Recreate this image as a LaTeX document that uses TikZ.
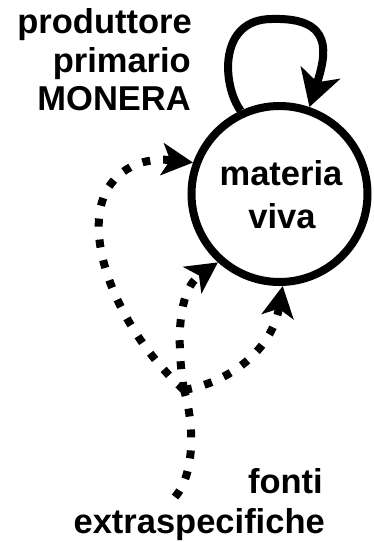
\documentclass[tikz,border=0pt]{standalone}
\usepackage{fontspec}
\setmainfont{Liberation Sans}
\usetikzlibrary{arrows.meta}
\begin{document}
\begin{tikzpicture}[x=1pt,y=-1pt,
  lbl/.style={font=\fontsize{34.5}{40}\selectfont\bfseries, inner sep=0pt},
  ring/.style={circle, draw, line width=8pt, minimum size=176pt, inner sep=0pt},
  feed/.style={line width=8pt, -{Stealth[length=36pt,width=41pt,inset=10pt]}},
  supply/.style={line width=8pt, dash pattern=on 8pt off 13pt},
  supplyarrow/.style={supply, -{Stealth[length=31pt,width=32pt,inset=8pt]}}]
\useasboundingbox (0,0) rectangle (373,542);

% living matter
\node[ring] (mv) at (279.5,194) {};
\node[lbl, anchor=base] (mv1) at (281,185) {materia};
\node[lbl, anchor=base] (mv2) at (282,228) {viva};

% primary producer label
\node[lbl, anchor=base east] (p1) at (192,33) {produttore};
\node[lbl, anchor=base east] (p2) at (191,72) {primario};
\node[lbl, anchor=base east] (p3) at (191,110) {MONERA};

% external sources label
\node[lbl, anchor=base east] (f1) at (323,493) {fonti};
\node[lbl, anchor=base east] (f2) at (325,533) {extraspecifiche};

% self-feeding loop
\draw[feed] (mv.115) .. controls (222,85) and (218,19) .. (272,19)
            .. controls (335,17) and (326,55) .. (mv.71);

% supply lines from the external sources
\coordinate (src) at (175,497);
\coordinate (fork) at (184,390);
\draw[supply] (src) .. controls (193,477) and (196,430) .. (fork);
\draw[supplyarrow] (fork) .. controls (176,340) and (178,290) .. (mv.228);
\draw[supplyarrow] (fork) .. controls (230,382) and (272,350) .. (mv.272);
\draw[supplyarrow] (fork) .. controls (118,330) and (80,235) .. (108,188)
                   .. controls (125,162) and (152,158) .. (mv.160);
\end{tikzpicture}
\end{document}
